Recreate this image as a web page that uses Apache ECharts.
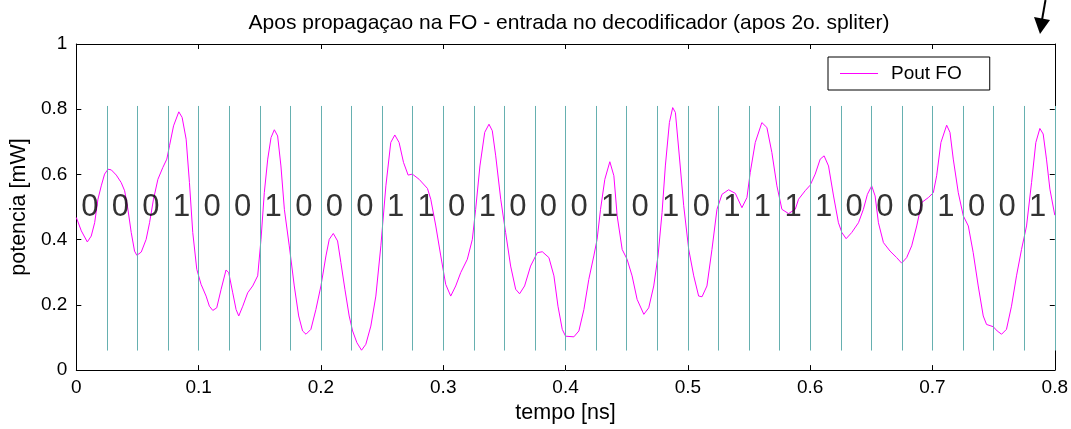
<!DOCTYPE html>
<html>
<head>
<meta charset="utf-8">
<script src="https://cdn.jsdelivr.net/npm/echarts@6/dist/echarts.min.js"></script>
<style>
html,body{margin:0;padding:0;background:#fff;}
#chart{width:1071px;height:429px;}
</style>
</head>
<body>
<div id="chart"></div>
<script>
// ---- data ----
const titleText = 'Apos propagaçao na FO - entrada no decodificador (apos 2o. spliter)';
const xName = 'tempo [ns]';
const yName = 'potencia [mW]';
const seriesName = 'Pout FO';
const xTicks = [0, 0.1, 0.2, 0.3, 0.4, 0.5, 0.6, 0.7, 0.8];
const yTicks = [0, 0.2, 0.4, 0.6, 0.8, 1];
const bits = [0,0,0,1,0,0,1,0,0,0,1,1,0,1,0,0,0,1,0,1,0,1,1,1,1,0,0,0,1,0,0,1];
const bitPeriod = 0.025;
const bitLineLow = 0.06;
const bitLineHigh = 0.81;
const bitTextLevel = 0.5;
// [tempo (ns), potencia (mW)]
const poutFO = [
[0,0.468],[0.0041,0.427],[0.009,0.393],[0.0122,0.411],[0.015,0.452],[0.0177,0.524],[0.0204,0.565],[0.0231,0.601],
[0.0259,0.616],[0.0286,0.614],[0.0327,0.598],[0.0367,0.575],[0.0395,0.550],[0.0422,0.493],[0.0449,0.422],[0.0476,0.365],
[0.0495,0.352],[0.0531,0.362],[0.0571,0.401],[0.0599,0.452],[0.0631,0.524],[0.0667,0.585],[0.0707,0.621],[0.074,0.647],
[0.0762,0.688],[0.0795,0.749],[0.0838,0.792],[0.0865,0.775],[0.0898,0.708],[0.0925,0.575],[0.0952,0.422],[0.0985,0.309],
[0.102,0.263],[0.1061,0.227],[0.1088,0.196],[0.1116,0.183],[0.1148,0.191],[0.1184,0.248],[0.1224,0.307],[0.1246,0.299],
[0.1279,0.237],[0.1306,0.186],[0.1328,0.166],[0.1361,0.196],[0.1401,0.237],[0.1442,0.258],[0.1483,0.289],[0.151,0.401],
[0.1537,0.544],[0.1565,0.647],[0.1592,0.713],[0.1619,0.737],[0.1646,0.718],[0.1673,0.626],[0.1701,0.493],[0.1741,0.381],
[0.1782,0.258],[0.1818,0.166],[0.185,0.120],[0.1878,0.110],[0.1918,0.125],[0.1959,0.186],[0.2,0.258],[0.2041,0.350],
[0.2068,0.401],[0.2101,0.419],[0.2136,0.396],[0.2163,0.330],[0.2196,0.248],[0.2231,0.166],[0.2259,0.120],[0.2294,0.084],
[0.2332,0.061],[0.2367,0.079],[0.2408,0.135],[0.2449,0.227],[0.249,0.381],[0.2531,0.565],[0.2571,0.698],[0.2604,0.721],
[0.2639,0.698],[0.2675,0.637],[0.2713,0.598],[0.2748,0.601],[0.2803,0.585],[0.2871,0.557],[0.2898,0.524],[0.2939,0.442],
[0.298,0.350],[0.302,0.263],[0.3061,0.227],[0.3102,0.258],[0.3143,0.299],[0.3197,0.340],[0.3238,0.401],[0.3265,0.493],
[0.33,0.626],[0.3339,0.729],[0.3374,0.754],[0.3401,0.734],[0.3429,0.657],[0.347,0.524],[0.351,0.422],[0.3551,0.319],
[0.3592,0.248],[0.3624,0.234],[0.3665,0.258],[0.3714,0.319],[0.3769,0.360],[0.381,0.363],[0.3864,0.345],[0.3905,0.289],
[0.3938,0.196],[0.3973,0.125],[0.4,0.104],[0.4068,0.102],[0.4109,0.120],[0.415,0.186],[0.419,0.278],[0.4231,0.350],
[0.4258,0.401],[0.4286,0.493],[0.4321,0.585],[0.4362,0.639],[0.4395,0.596],[0.4422,0.473],[0.4463,0.370],[0.4503,0.340],
[0.4544,0.289],[0.4585,0.217],[0.464,0.171],[0.468,0.191],[0.4721,0.258],[0.4756,0.350],[0.4789,0.483],[0.4816,0.626],
[0.4849,0.759],[0.4876,0.805],[0.4898,0.790],[0.4925,0.678],[0.4966,0.504],[0.5007,0.370],[0.5048,0.289],[0.5088,0.227],
[0.5116,0.225],[0.5156,0.258],[0.5197,0.370],[0.5238,0.493],[0.5279,0.539],[0.5333,0.553],[0.5388,0.542],[0.5442,0.498],
[0.5483,0.529],[0.551,0.606],[0.5551,0.698],[0.5605,0.759],[0.5646,0.744],[0.5687,0.667],[0.5728,0.565],[0.5769,0.493],
[0.5823,0.480],[0.5878,0.493],[0.5905,0.524],[0.5959,0.550],[0.6,0.567],[0.6041,0.601],[0.6082,0.647],[0.6114,0.657],
[0.615,0.626],[0.6191,0.534],[0.6231,0.452],[0.6259,0.422],[0.6294,0.403],[0.634,0.422],[0.6395,0.452],[0.6435,0.493],
[0.6468,0.539],[0.6503,0.565],[0.6531,0.534],[0.6558,0.452],[0.6599,0.391],[0.6653,0.365],[0.6707,0.345],[0.6748,0.328],
[0.6789,0.345],[0.683,0.381],[0.6871,0.442],[0.6912,0.514],[0.6966,0.529],[0.7007,0.544],[0.7034,0.596],[0.7069,0.698],
[0.7116,0.751],[0.7143,0.729],[0.717,0.647],[0.7211,0.544],[0.7252,0.473],[0.7293,0.442],[0.7333,0.360],[0.7374,0.258],
[0.7415,0.166],[0.7442,0.140],[0.7497,0.133],[0.7529,0.120],[0.7565,0.110],[0.7605,0.125],[0.7646,0.196],[0.7687,0.289],
[0.7728,0.370],[0.7769,0.442],[0.781,0.575],[0.7845,0.698],[0.7878,0.741],[0.7905,0.724],[0.7932,0.647],[0.796,0.555],
[0.8,0.475]
];

// ---- build ----
const FONT = '"Liberation Sans", Arial, Helvetica, sans-serif';
const bitPoints = bits.map((b, k) => [k * bitPeriod + bitPeriod * 0.44, bitTextLevel, b]);
const bitLines = bits.map((b, k) => [
  { coord: [(k + 1) * bitPeriod, bitLineLow] },
  { coord: [(k + 1) * bitPeriod, bitLineHigh] }
]);

const chart = echarts.init(document.getElementById('chart'), null, { renderer: 'canvas' });
const axisCommon = {
  axisLine: { show: true, onZero: false, lineStyle: { color: '#000', width: 1 } },
  axisTick: { show: true, inside: true, length: 5, lineStyle: { color: '#000' } },
  splitLine: { show: false }
};
chart.setOption({
  animation: false,
  backgroundColor: '#fff',
  title: {
    text: titleText,
    left: 564, textAlign: 'center', top: 8,
    textStyle: { fontFamily: FONT, fontSize: 21, fontWeight: 'normal', color: '#000' }
  },
  legend: {
    data: [{ name: seriesName, icon: 'rect' }],
    left: 828, top: 57,
    orient: 'horizontal',
    backgroundColor: '#fff',
    borderColor: '#000', borderWidth: 1, borderRadius: 0,
    padding: [7, 28, 7, 12],
    itemWidth: 38, itemHeight: 1,
    itemStyle: { color: '#ff00ff', borderWidth: 0 },
    textStyle: { fontFamily: FONT, fontSize: 19, color: '#000', padding: [0, 0, 0, 8] }
  },
  grid: { left: 75, right: 14.5, top: 44, bottom: 58, containLabel: false },
  xAxis: [
    Object.assign({}, axisCommon, {
      type: 'value', position: 'bottom', min: xTicks[0], max: xTicks[xTicks.length - 1], interval: 0.1,
      name: xName, nameLocation: 'middle', nameGap: 30,
      nameTextStyle: { fontFamily: FONT, fontSize: 21.5, color: '#000' },
      axisLabel: { fontFamily: FONT, fontSize: 19, color: '#000', margin: 8,
        formatter: v => String(Math.round(v * 10) / 10) }
    }),
    Object.assign({}, axisCommon, {
      type: 'value', position: 'top', min: xTicks[0], max: xTicks[xTicks.length - 1], interval: 0.1,
      axisLabel: { show: false }
    })
  ],
  yAxis: [
    Object.assign({}, axisCommon, {
      type: 'value', position: 'left', min: yTicks[0], max: yTicks[yTicks.length - 1], interval: 0.2,
      name: yName, nameLocation: 'middle', nameGap: 34, nameRotate: 90,
      nameTextStyle: { fontFamily: FONT, fontSize: 21.5, color: '#000' },
      axisLabel: { fontFamily: FONT, fontSize: 19, color: '#000', margin: 9,
        formatter: v => String(Math.round(v * 10) / 10) }
    }),
    Object.assign({}, axisCommon, {
      type: 'value', position: 'right', min: yTicks[0], max: yTicks[yTicks.length - 1], interval: 0.2,
      axisLabel: { show: false }
    })
  ],
  series: [
    {
      name: 'bitmarks', type: 'scatter', silent: true,
      data: bitPoints, symbolSize: 1, itemStyle: { color: 'rgba(0,0,0,0)' },
      label: { show: true, position: 'inside', formatter: p => String(p.value[2]),
        fontFamily: FONT, fontSize: 31, color: '#000' },
      labelLayout: { hideOverlap: false },
      markLine: {
        silent: true, symbol: ['none', 'none'], label: { show: false },
        lineStyle: { color: '#66b0b0', width: 1, type: 'solid' },
        emphasis: { disabled: true },
        data: bitLines
      },
      z: 3
    },
    {
      name: seriesName, type: 'line', data: poutFO,
      symbol: 'none', showSymbol: false, smooth: false,
      lineStyle: { color: '#ff00ff', width: 1 }, itemStyle: { color: '#ff00ff' },
      z: 2
    }
  ],
  graphic: [
    { type: 'line', shape: { x1: 1045.5, y1: 0, x2: 1042, y2: 20 }, style: { stroke: '#000', lineWidth: 2 } },
    { type: 'polygon', shape: { points: [[1040, 34], [1034, 17], [1050, 20]] }, style: { fill: '#000' } }
  ]
});
</script>
</body>
</html>
